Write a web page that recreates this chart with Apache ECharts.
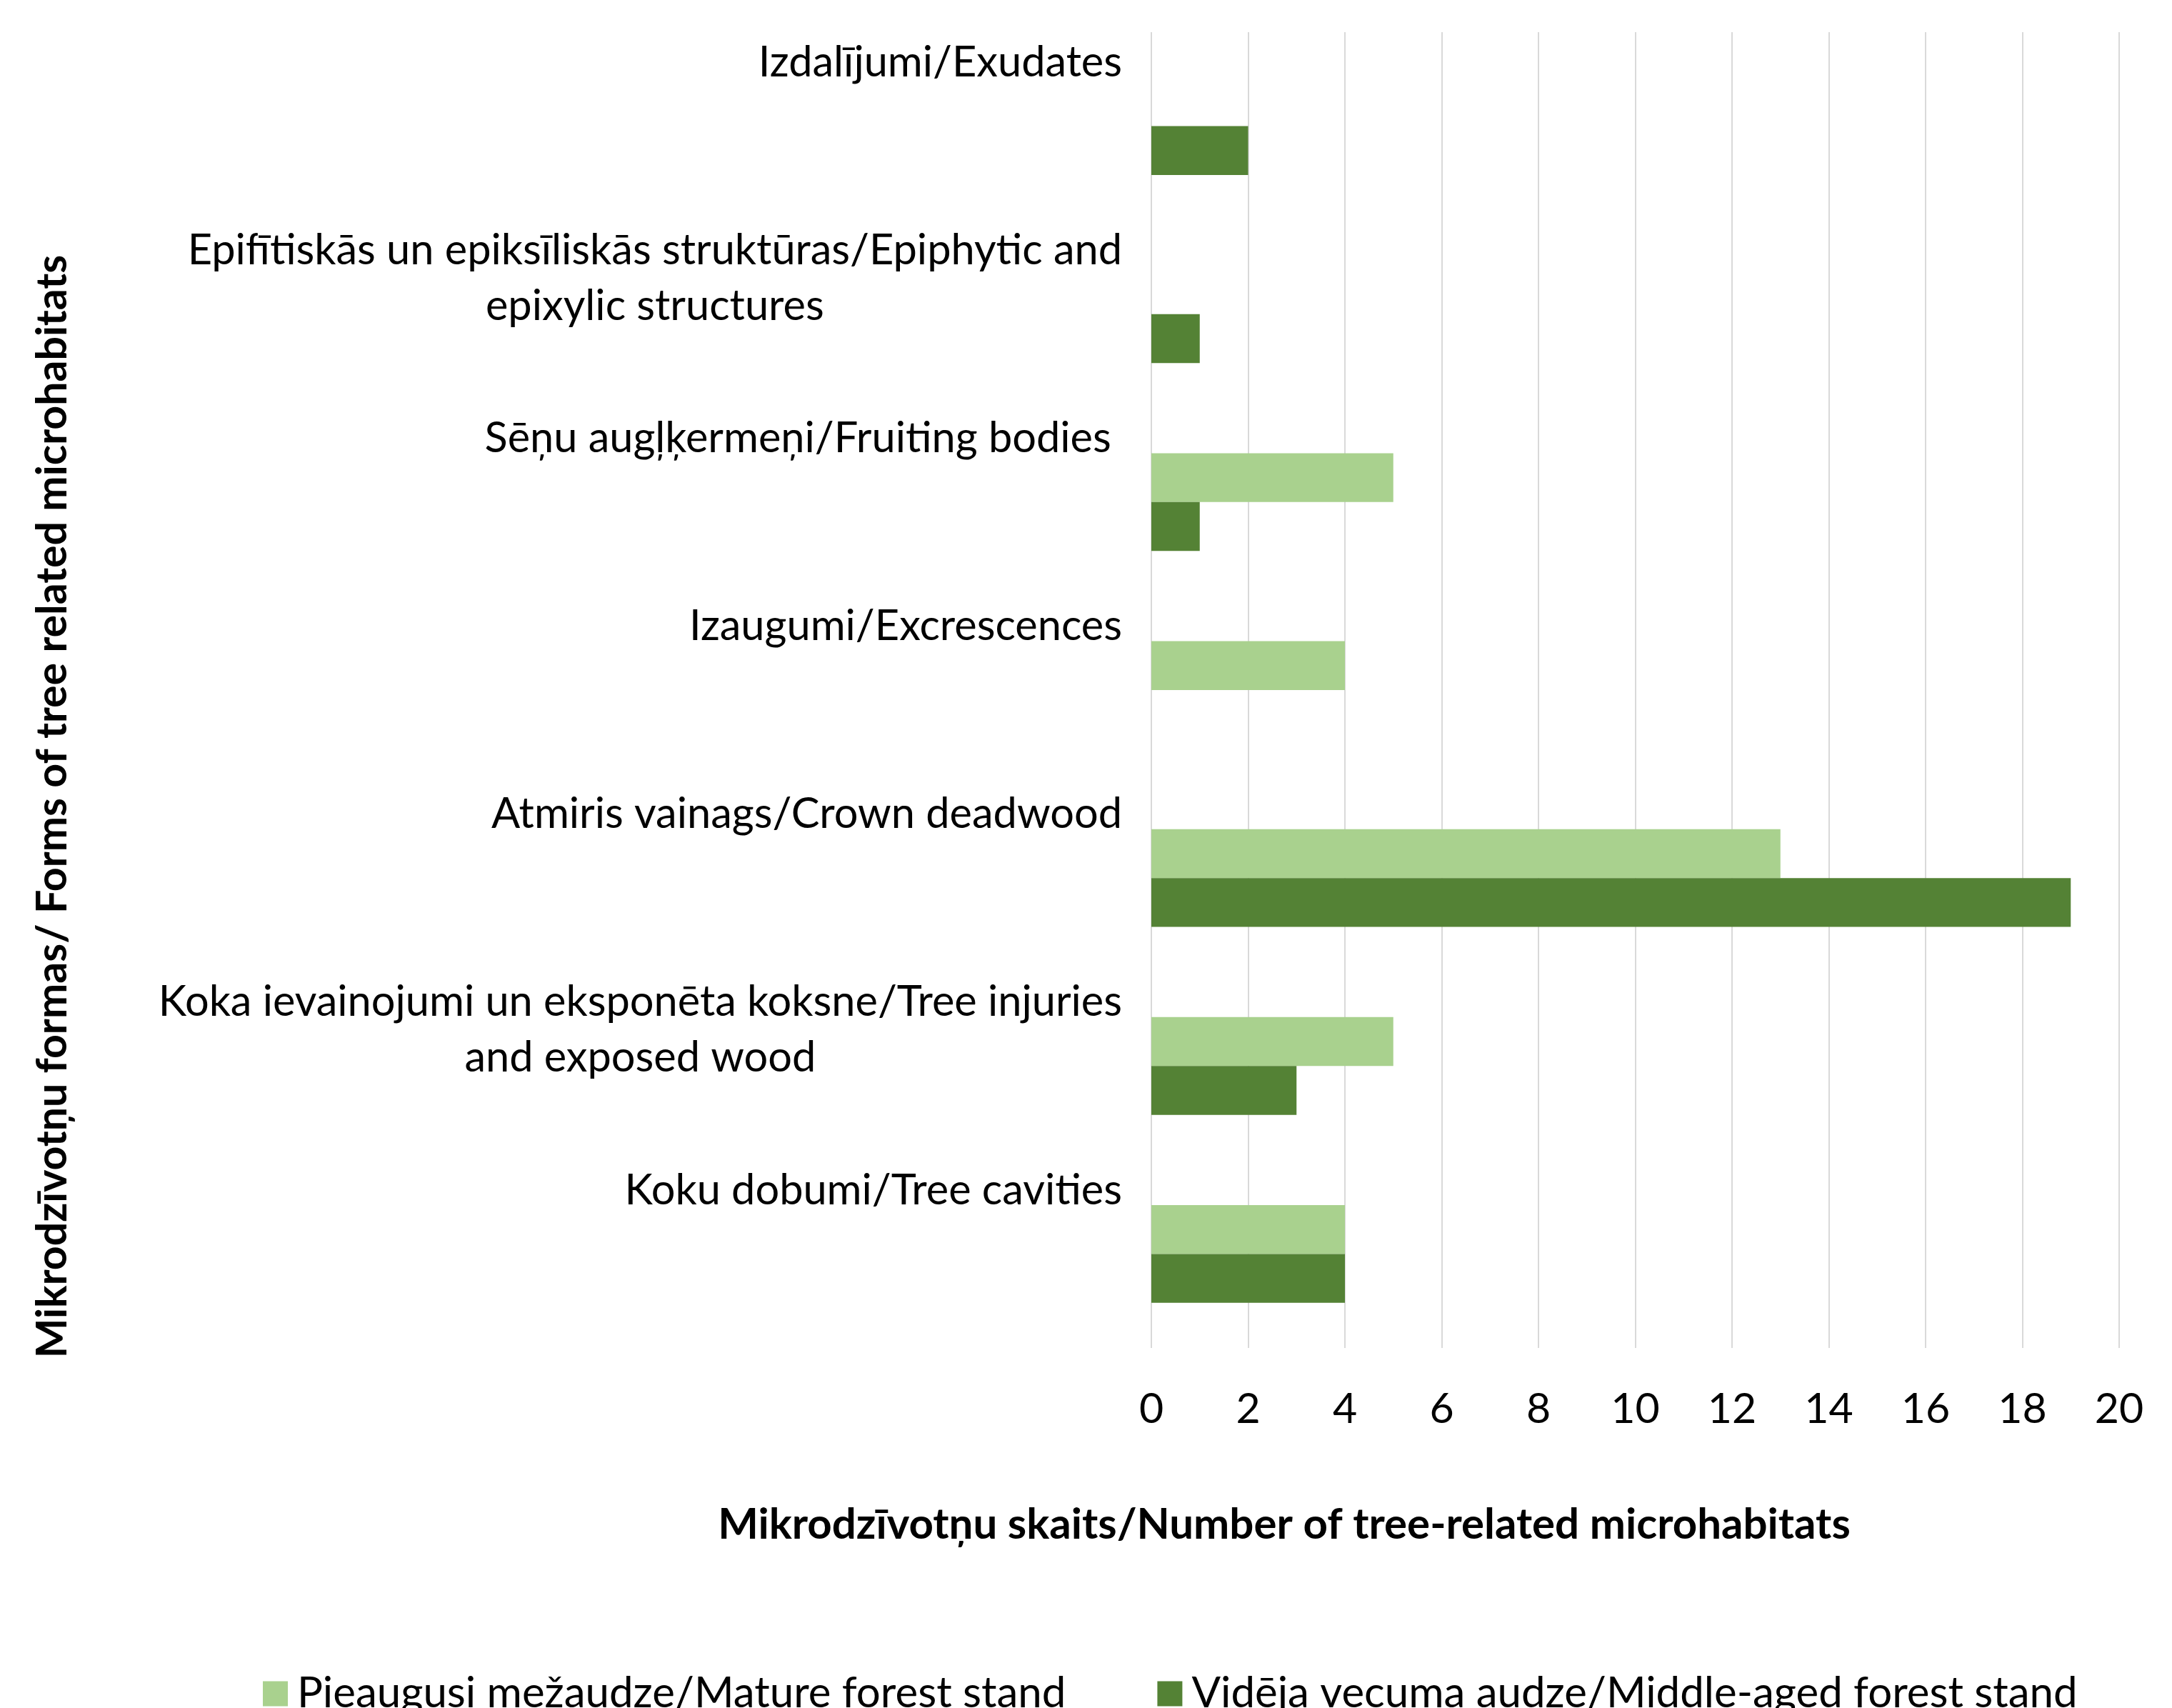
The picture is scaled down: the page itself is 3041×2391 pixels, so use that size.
<!DOCTYPE html>
<html>
<head>
<meta charset="utf-8">
<script src="https://cdn.jsdelivr.net/npm/echarts@6/dist/echarts.min.js"></script>
<style>
  html, body { margin: 0; padding: 0; background: #fff; }
  #chart { width: 3041px; height: 2391px; }
</style>
</head>
<body>
<div id="chart"></div>
<script>
  // categories listed bottom -> top (category axis runs upward)
  const categories = [
    'Koku dobumi/Tree cavities',
    'Koka ievainojumi un eksponēta koksne/Tree injuries\nand exposed wood',
    'Atmiris vainags/Crown deadwood',
    'Izaugumi/Excrescences',
    'Sēņu augļķermeņi/Fruiting bodies ',
    'Epifītiskās un epiksīliskās struktūras/Epiphytic and\nepixylic structures',
    'Izdalījumi/Exudates'
  ];
  const seriesNames = [
    'Pieaugusi mežaudze/Mature forest stand',
    'Vidēja vecuma audze/Middle-aged forest stand'
  ];
  const matureValues = [4, 5, 13, 4, 5, 0, 0];
  const middleAgedValues = [4, 3, 19, 0, 1, 1, 2];
  const xTicks = { min: 0, max: 20, interval: 2 };
  const xTitle = 'Mikrodzīvotņu skaits/Number of tree-related microhabitats';
  const yTitle = 'Mikrodzīvotņu formas/ Forms of tree related microhabitats';

  const FONT = 'Lato';
  const chart = echarts.init(document.getElementById('chart'));

  const option = {
    animation: false,
    textStyle: { fontFamily: FONT },
    grid: { left: 1612, right: 74, top: 45, bottom: 504 },
    legend: {
      data: seriesNames,
      left: 363,
      top: 2336,
      itemWidth: 35,
      itemHeight: 35,
      itemGap: 128,
      icon: 'rect',
      textStyle: { fontFamily: FONT, fontSize: 60, color: '#000', padding: [0, 0, 0, 8] }
    },
    xAxis: {
      type: 'value',
      min: xTicks.min,
      max: xTicks.max,
      interval: xTicks.interval,
      axisLine: { show: false },
      axisTick: { show: false },
      axisLabel: { fontFamily: FONT, fontSize: 59, color: '#000', margin: 56 },
      splitLine: { lineStyle: { color: '#d9d9d9', width: 2 } }
    },
    yAxis: {
      type: 'category',
      data: categories,
      axisLine: { show: false },
      axisTick: { show: false },
      axisLabel: {
        margin: 41,
        align: 'right',
        padding: [0, 0, 22, 0],
        formatter: function (v) {
          const lines = v.split('\n');
          while (lines.length < 3) lines.push(' ');
          return lines.map((l, i) => (i === 0 ? '{a|' + l + '}' : '{b|' + l + '}')).join('\n');
        },
        rich: {
          a: { fontFamily: FONT, fontSize: 59.5, color: '#000', lineHeight: 78, align: 'right' },
          b: { fontFamily: FONT, fontSize: 59.5, color: '#000', lineHeight: 78, align: 'center' }
        }
      }
    },
    graphic: [
      {
        type: 'text',
        x: 1798,
        y: 2135,
        style: {
          text: xTitle,
          font: 'bold 60px ' + FONT,
          fill: '#000',
          textAlign: 'center',
          textVerticalAlign: 'middle'
        }
      },
      {
        type: 'text',
        x: 74,
        y: 1129,
        rotation: Math.PI / 2,
        style: {
          text: yTitle,
          font: 'bold 59px ' + FONT,
          fill: '#000',
          textAlign: 'center',
          textVerticalAlign: 'middle'
        }
      }
    ],
    series: [
      {
        name: seriesNames[0],
        type: 'bar',
        data: matureValues,
        barGap: '0%',
        barCategoryGap: '48%',
        itemStyle: { color: '#a9d18e' }
      },
      {
        name: seriesNames[1],
        type: 'bar',
        data: middleAgedValues,
        barGap: '0%',
        barCategoryGap: '48%',
        itemStyle: { color: '#548235' }
      }
    ]
  };

  chart.setOption(option);
  window.addEventListener('resize', () => { chart.resize(); });
</script>
</body>
</html>
